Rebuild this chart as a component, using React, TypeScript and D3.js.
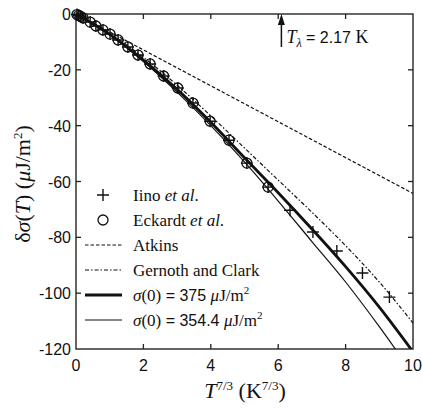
import React from "react";
import * as d3 from "d3";

// values
const xTicks = [0, 2, 4, 6, 8, 10];
const yTicks = [0, -20, -40, -60, -80, -100, -120];

const eckardtX = [0.03, 0.08, 0.14, 0.21, 0.42, 0.59, 0.8, 1.01, 1.25, 1.54, 1.84, 2.2, 2.6, 3.02, 3.47, 3.98, 4.54, 5.07, 5.7];
const eckardtY = [-0.2, -0.5, -0.9, -1.4, -2.9, -4.3, -5.7, -7.2, -9.3, -11.8, -14.7, -17.9, -22.2, -26.5, -31.9, -38.4, -45.2, -53.4, -62.0];

const iinoX = [0.03, 0.08, 0.14, 0.21, 0.42, 0.59, 0.8, 1.01, 1.25, 1.54, 1.84, 2.2, 2.6, 3.02, 3.47, 3.98, 4.54, 5.07, 5.7, 6.35, 7.03, 7.74, 8.5, 9.3];
const iinoY = [-0.2, -0.5, -0.9, -1.4, -2.9, -4.3, -5.7, -7.2, -9.3, -11.8, -14.7, -17.9, -22.2, -26.5, -31.9, -38.4, -45.2, -53.4, -62.0, -70.3, -78.1, -84.9, -92.8, -101.4];

const curveX = [0, 1, 2, 3, 4, 5, 6, 7, 8, 9, 10];
const atkinsX = [0, 10];
const atkinsY = [0, -64.3];
const gernothY = [0, -7, -15.5, -25.5, -36.5, -48, -59.5, -71, -83, -96, -110.7];
const sigma375Y = [0, -7.3, -16.5, -27, -38.8, -51.5, -64, -77, -90.5, -105, -121];
const sigma354Y = [0, -7.5, -17, -28, -40, -53, -67, -81.5, -96, -112, -129];

const lambdaX = 6.095; // 2.17^(7/3)

const W = 422;
const H = 408;
const left = 76, right = 413, top = 14, bottom = 349;

const serif = "Liberation Serif";
const sans = "Liberation Sans";
const ink = "#111";

export default function App() {
  const x = d3.scaleLinear().domain([0, 10]).range([left, right]);
  const y = d3.scaleLinear().domain([0, -120]).range([top, bottom]);

  const line = d3
    .line<[number, number]>()
    .x((d) => x(d[0]))
    .y((d) => y(d[1]))
    .curve(d3.curveMonotoneX);

  const zip = (xs: number[], ys: number[]) => xs.map((v, i) => [v, ys[i]] as [number, number]);

  const legendKinds = ["cross", "circle", "dash", "dashdot", "thick", "thin"];
  const legY0 = 195;
  const legDy = 25;
  const st = { fontFamily: serif, fontSize: 17 };

  return (
    <svg width={W} height={H} style={{ position: "absolute", left: 0, top: 0, background: "#fff" }}>
      <defs>
        <clipPath id="plot">
          <rect x={left} y={top - 6} width={right - left + 6} height={bottom - top + 6} />
        </clipPath>
      </defs>

      {/* frame */}
      <rect x={left} y={top} width={right - left} height={bottom - top} fill="none" stroke="#333" strokeWidth={1.5} />

      {/* ticks */}
      {xTicks.slice(1, -1).map((t) => (
        <g key={"xt" + t}>
          <line x1={x(t)} x2={x(t)} y1={bottom} y2={bottom - 5} stroke="#222" strokeWidth={1.3} />
          <line x1={x(t)} x2={x(t)} y1={top} y2={top + 5} stroke="#222" strokeWidth={1.3} />
        </g>
      ))}
      {yTicks.slice(1, -1).map((t) => (
        <g key={"yt" + t}>
          <line x1={left} x2={left + 5} y1={y(t)} y2={y(t)} stroke="#222" strokeWidth={1.3} />
          <line x1={right} x2={right - 5} y1={y(t)} y2={y(t)} stroke="#222" strokeWidth={1.3} />
        </g>
      ))}
      {xTicks.map((t) => (
        <text key={"xl" + t} x={x(t)} y={bottom + 22} textAnchor="middle" style={{ fontFamily: sans, fontSize: 16 }} fill={ink}>
          {t}
        </text>
      ))}
      {yTicks.map((t) => (
        <text key={"yl" + t} x={left - 5} y={y(t) + 6} textAnchor="end" style={{ fontFamily: sans, fontSize: 16 }} fill={ink}>
          {t}
        </text>
      ))}

      {/* curves */}
      <g clipPath="url(#plot)" fill="none" stroke={ink}>
        <path d={line(zip(atkinsX, atkinsY)) || ""} strokeWidth={1.2} strokeDasharray="3.5,2" />
        <path d={line(zip(curveX, gernothY)) || ""} strokeWidth={1.2} strokeDasharray="4,2,1.5,2" />
        <path d={line(zip(curveX, sigma375Y)) || ""} strokeWidth={2.8} />
        <path d={line(zip(curveX, sigma354Y)) || ""} strokeWidth={1.2} />
      </g>

      {/* Eckardt circles */}
      {eckardtX.map((v, i) => (
        <circle key={"e" + i} cx={x(v)} cy={y(eckardtY[i])} r={5} fill="none" stroke={ink} strokeWidth={1.3} />
      ))}
      {/* Iino crosses */}
      {iinoX.map((v, i) => (
        <path
          key={"i" + i}
          d={`M${x(v) - 6},${y(iinoY[i])}h12M${x(v)},${y(iinoY[i]) - 6}v12`}
          stroke={ink}
          strokeWidth={1.4}
        />
      ))}

      {/* T lambda marker */}
      <line x1={x(lambdaX)} x2={x(lambdaX)} y1={top + 8} y2={top + 33} stroke={ink} strokeWidth={1.5} />
      <path d={`M${x(lambdaX)},${top}l-3.5,11h7z`} fill={ink} />
      <text x={x(lambdaX) + 5} y={top + 29} fill={ink} style={{ fontFamily: serif, fontSize: 18 }}>
        <tspan fontStyle="italic">T</tspan>
        <tspan fontStyle="italic" style={{ fontSize: 12 }} dy={4}>λ</tspan>
        <tspan style={{ fontFamily: sans, fontSize: 16 }} dy={-4}> = 2.17 </tspan>
        <tspan>K</tspan>
      </text>

      {/* legend */}
      {legendKinds.map((k, i) => {
        const cy = legY0 + i * legDy;
        const x0 = 85, x1 = 122, cx = 103;
        let sym: React.ReactNode = null;
        if (k === "cross") sym = <path d={`M${cx - 6},${cy}h12M${cx},${cy - 6}v12`} stroke={ink} strokeWidth={1.4} />;
        if (k === "circle") sym = <circle cx={cx} cy={cy} r={5} fill="none" stroke={ink} strokeWidth={1.3} />;
        if (k === "dash") sym = <line x1={x0} x2={x1} y1={cy} y2={cy} stroke={ink} strokeWidth={1.2} strokeDasharray="3.5,2" />;
        if (k === "dashdot") sym = <line x1={x0} x2={x1} y1={cy} y2={cy} stroke={ink} strokeWidth={1.2} strokeDasharray="4,2,1.5,2" />;
        if (k === "thick") sym = <line x1={x0} x2={x1} y1={cy} y2={cy} stroke={ink} strokeWidth={2.8} />;
        if (k === "thin") sym = <line x1={x0} x2={x1} y1={cy} y2={cy} stroke={ink} strokeWidth={1.2} />;
        return <g key={"lg" + i}>{sym}</g>;
      })}
      <text x={133} y={legY0 + 6} fill={ink} style={st}>
        Iino <tspan fontStyle="italic">et al</tspan>.
      </text>
      <text x={133} y={legY0 + legDy + 6} fill={ink} style={st}>
        Eckardt <tspan fontStyle="italic">et al</tspan>.
      </text>
      <text x={133} y={legY0 + 2 * legDy + 6} fill={ink} style={st}>
        Atkins
      </text>
      <text x={133} y={legY0 + 3 * legDy + 6} fill={ink} style={st}>
        Gernoth and Clark
      </text>
      <text x={133} y={legY0 + 4 * legDy + 6} fill={ink} style={st}>
        <tspan fontStyle="italic">σ</tspan>(0)
        <tspan style={{ fontFamily: sans, fontSize: 16 }}> = 375 </tspan>
        <tspan fontStyle="italic">μ</tspan>J/m
        <tspan style={{ fontSize: 11 }} dy={-7}>2</tspan>
      </text>
      <text x={133} y={legY0 + 5 * legDy + 6} fill={ink} style={st}>
        <tspan fontStyle="italic">σ</tspan>(0)
        <tspan style={{ fontFamily: sans, fontSize: 16 }}> = 354.4 </tspan>
        <tspan fontStyle="italic">μ</tspan>J/m
        <tspan style={{ fontSize: 11 }} dy={-7}>2</tspan>
      </text>

      {/* axis titles */}
      <text x={245} y={398} textAnchor="middle" fill={ink} style={{ fontFamily: serif, fontSize: 22 }}>
        <tspan fontStyle="italic">T</tspan>
        <tspan style={{ fontSize: 13 }} dy={-8}>7/3</tspan>
        <tspan dy={8}> (K</tspan>
        <tspan style={{ fontSize: 13 }} dy={-8}>7/3</tspan>
        <tspan dy={8}>)</tspan>
      </text>
      <text
        transform={`translate(30,${184}) rotate(-90)`}
        textAnchor="middle"
        fill={ink}
        style={{ fontFamily: serif, fontSize: 22 }}
      >
        δ<tspan fontStyle="italic">σ</tspan>(<tspan fontStyle="italic">T</tspan>) (<tspan fontStyle="italic">μ</tspan>J/m
        <tspan style={{ fontSize: 13 }} dy={-8}>2</tspan>
        <tspan dy={8}>)</tspan>
      </text>
    </svg>
  );
}
